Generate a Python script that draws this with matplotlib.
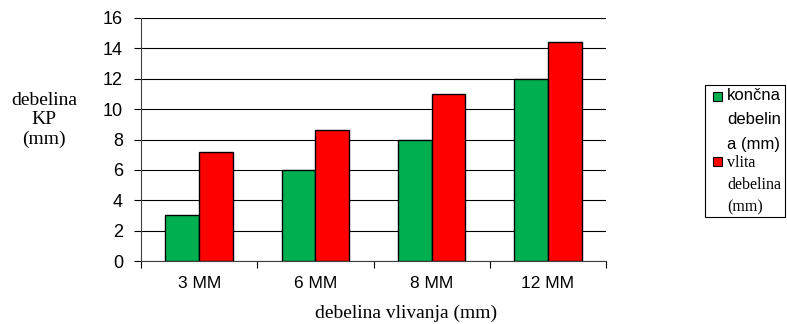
import numpy as np
import matplotlib.pyplot as plt
import matplotlib.transforms as mtransforms
from matplotlib.patches import Rectangle

categories = ['3 MM', '6 MM', '8 MM', '12 MM']
koncna = [3, 6, 8, 12]
vlita = [7.2, 8.6, 11, 14.4]
legend_green = ['končna', 'debelin', 'a (mm)']
legend_red = ['vlita', 'debelina', '(mm)']

green = '#00B050'
red = '#FF0000'

W, H = 787, 324
fig = plt.figure(figsize=(W / 100, H / 100), dpi=100)
ax = fig.add_axes([141 / W, 1 - 261 / H, (606 - 141) / W, (261 - 18) / H])

x = np.arange(len(categories))
w = 0.29
ax.bar(x - w / 2, koncna, w, color=green, edgecolor='black', linewidth=1, zorder=3)
ax.bar(x + w / 2, vlita, w, color=red, edgecolor='black', linewidth=1, zorder=3)

ax.set_xlim(-0.5, len(categories) - 0.5)
ax.set_ylim(0, 16)
ax.set_yticks(range(0, 17, 2))
ax.yaxis.grid(True, color='black', linewidth=0.8, zorder=0)
ax.set_axisbelow(True)

# ticks between categories, labels at centres
ax.set_xticks(np.arange(-0.5, len(categories), 1))
ax.set_xticklabels([])
ax.set_xticks(x, minor=True)
ax.set_xticklabels(categories, minor=True, family='Liberation Sans', fontsize=12.5)
shift = mtransforms.ScaledTranslation(5 / 100, 0, fig.dpi_scale_trans)
for lab in ax.get_xticklabels(minor=True):
    lab.set_transform(lab.get_transform() + shift)
ax.tick_params(axis='x', which='minor', length=0, pad=11)
ax.tick_params(axis='x', which='major', length=5, width=0.8, direction='out')
ax.tick_params(axis='y', length=5, width=0.8, direction='out', pad=8)
for lab in ax.get_yticklabels():
    lab.set_family('Liberation Sans')
    lab.set_fontsize(13)

for s in ['top', 'right']:
    ax.spines[s].set_visible(False)
ax.spines['left'].set_color('#404040')
ax.spines['bottom'].set_color('#404040')

fig.text(406 / W, 1 - 313 / H, 'debelina vlivanja (mm)', family='Liberation Serif',
         fontsize=14, ha='center', va='center')
fig.text(44 / W, 1 - 120 / H, 'debelina\nKP\n(mm)', family='Liberation Serif',
         fontsize=14, ha='center', va='center', linespacing=1.15)

# legend box
lx0, ly0, lx1, ly1 = 705, 85, 785, 217
fig.patches.append(Rectangle((lx0 / W, 1 - ly1 / H), (lx1 - lx0) / W, (ly1 - ly0) / H,
                             transform=fig.transFigure, facecolor='white', edgecolor='black',
                             linewidth=0.8))
fig.patches.append(Rectangle((713 / W, 1 - 101 / H), 9 / W, 9 / H,
                             transform=fig.transFigure, facecolor=green, edgecolor='black', linewidth=0.8))
fig.patches.append(Rectangle((713 / W, 1 - 166 / H), 9 / W, 9 / H,
                             transform=fig.transFigure, facecolor=red, edgecolor='black', linewidth=0.8))
for i, t in enumerate(legend_green):
    fig.text(727 / W, 1 - (96 + 24 * i) / H, t, family='Liberation Sans',
             fontsize=12, ha='left', va='center')
for i, t in enumerate(legend_red):
    fig.text(727 / W, 1 - (163 + 22 * i) / H, t, family='Liberation Serif',
             fontsize=11.5, ha='left', va='center')

fig.savefig('out.png', dpi=100)
